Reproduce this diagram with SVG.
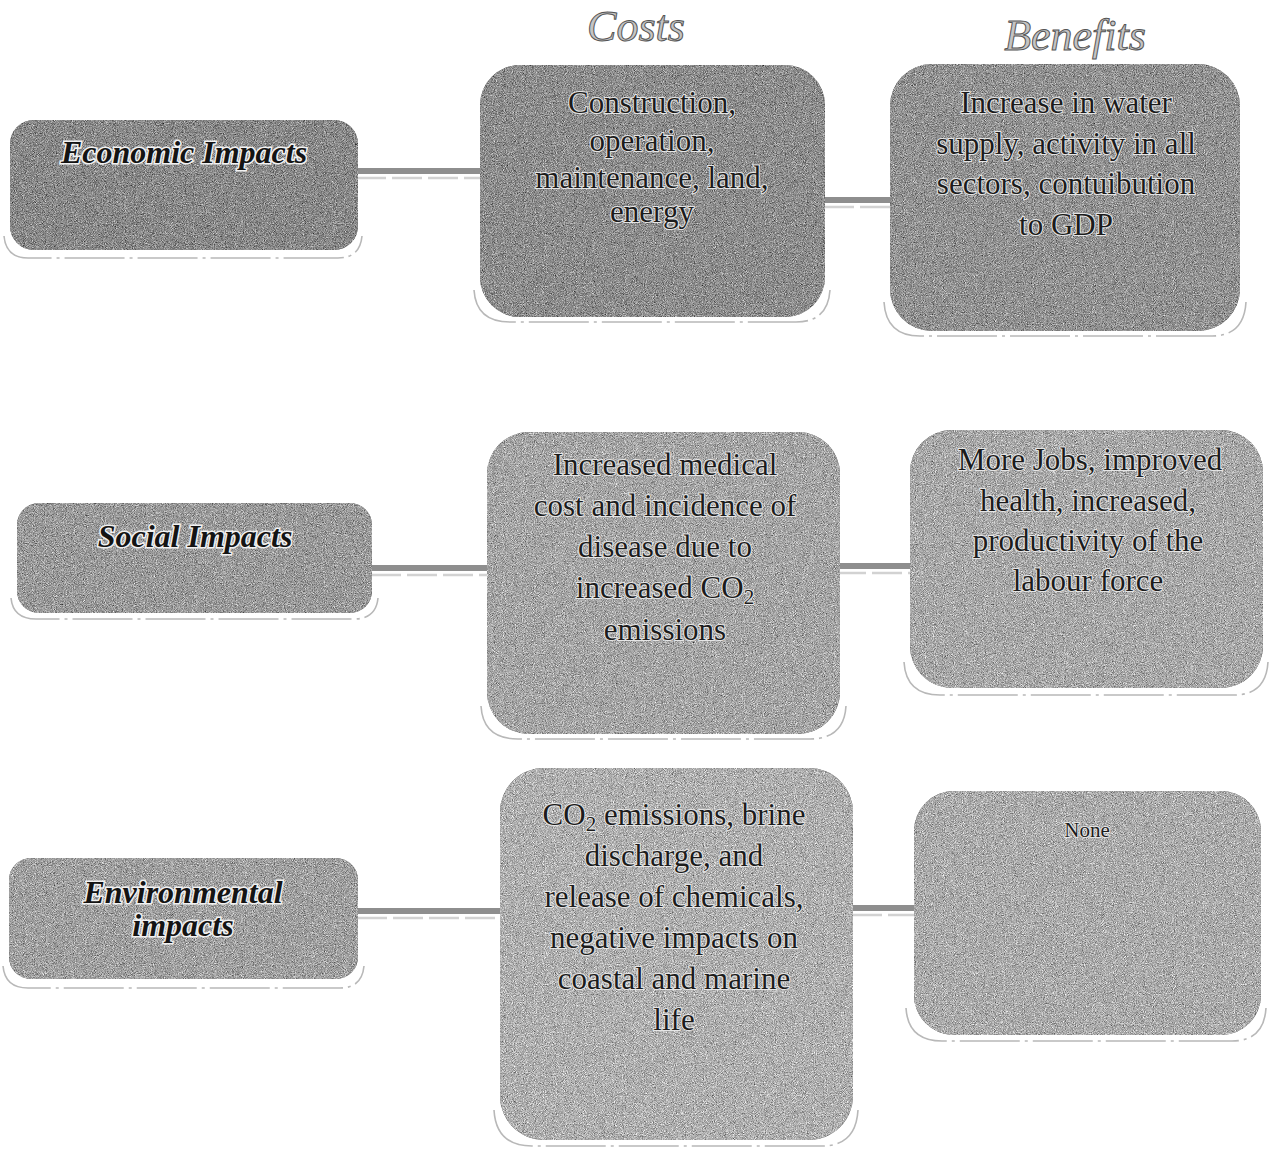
<svg xmlns="http://www.w3.org/2000/svg" width="1271" height="1156" viewBox="0 0 1271 1156">
<defs>
  <filter id="grain" x="0" y="0" width="100%" height="100%" color-interpolation-filters="sRGB">
    <feTurbulence type="fractalNoise" baseFrequency="1.1" numOctaves="2" seed="7" result="n"/>
    <feColorMatrix in="n" type="matrix" values="0.33 0.33 0.33 0 0  0.33 0.33 0.33 0 0  0.33 0.33 0.33 0 0  0 0 0 0 1" result="g"/>
    <feComposite in="SourceGraphic" in2="g" operator="arithmetic" k1="0" k2="1" k3="1.5" k4="-0.75" result="mix"/>
    <feComposite in="mix" in2="SourceGraphic" operator="in"/>
  </filter>
  <style>
    .box { filter: url(#grain); }
    .refl { fill: none; stroke: #b8b8b8; stroke-width: 1.6; stroke-dasharray: 60 5 3 5; }
    .conn { stroke: #8e8e8e; stroke-width: 6; fill: none; }
    .connsh { stroke: #d2d2d2; stroke-width: 2.5; fill: none; stroke-dasharray: 30 6; }
    .hdr { font-family: "Liberation Serif", "DejaVu Serif", serif; font-style: italic; font-size: 44px; fill: #c4c4c4; stroke: #555555; stroke-width: 1; text-anchor: middle; }
    .lbl { font-family: "Liberation Serif", "DejaVu Serif", serif; font-style: italic; font-weight: bold; font-size: 32px; fill: #141414; stroke: #f2f2f2; stroke-width: 3; paint-order: stroke; text-anchor: middle; }
    .txt { font-family: "Liberation Serif", "DejaVu Serif", serif; font-size: 31px; fill: #1c1c1c; stroke: #e6e6e6; stroke-width: 2; paint-order: stroke; text-anchor: middle; }
    .small { font-size: 21px; }
  </style>
</defs>
<rect width="1271" height="1156" fill="#ffffff"/>

<text class="hdr" x="636" y="41">Costs</text>
<text class="hdr" x="1075" y="50">Benefits</text>

<g id="connectors">
  <line class="conn" x1="356" y1="171" x2="481" y2="171"/>
  <line class="connsh" x1="356" y1="178" x2="481" y2="178"/>
  <line class="conn" x1="824" y1="200" x2="891" y2="200"/>
  <line class="connsh" x1="824" y1="207" x2="891" y2="207"/>
  <line class="conn" x1="371" y1="568" x2="488" y2="568"/>
  <line class="connsh" x1="371" y1="575" x2="488" y2="575"/>
  <line class="conn" x1="836" y1="566" x2="911" y2="566"/>
  <line class="connsh" x1="836" y1="573" x2="911" y2="573"/>
  <line class="conn" x1="357" y1="911" x2="501" y2="911"/>
  <line class="connsh" x1="357" y1="918" x2="501" y2="918"/>
  <line class="conn" x1="852" y1="908" x2="914" y2="908"/>
  <line class="connsh" x1="852" y1="915" x2="914" y2="915"/>
</g>

<g id="economic-impacts">
  <path class="refl" d="M4 236 Q6 258 28 258 L338 258 Q360 258 362 236"/>
  <rect class="box" x="10" y="120" width="348" height="130" rx="24" fill="#8a8a8a"/>
  <text class="lbl" x="184" y="163">Economic Impacts</text>
</g>

<g id="economic-costs">
  <path class="refl" d="M474 290 Q476 322 510 322 L796 322 Q828 322 830 290"/>
  <rect class="box" x="480" y="65" width="345" height="252" rx="40" fill="#8e8e8e"/>
  <text class="txt" x="652" y="113">Construction,</text>
  <text class="txt" x="652" y="151">operation,</text>
  <text class="txt" x="652" y="188">maintenance, land,</text>
  <text class="txt" x="652" y="222">energy</text>
</g>

<g id="economic-benefits">
  <path class="refl" d="M884 302 Q886 336 920 336 L1212 336 Q1244 336 1246 302"/>
  <rect class="box" x="890" y="64" width="350" height="267" rx="42" fill="#939393"/>
  <text class="txt" x="1066" y="113">Increase in water</text>
  <text class="txt" x="1066" y="154">supply, activity in all</text>
  <text class="txt" x="1066" y="194">sectors, contuibution</text>
  <text class="txt" x="1066" y="235">to GDP</text>
</g>

<g id="social-impacts">
  <path class="refl" d="M11 598 Q13 619 36 619 L354 619 Q376 619 378 598"/>
  <rect class="box" x="17" y="503" width="355" height="110" rx="22" fill="#9b9b9b"/>
  <text class="lbl" x="195" y="547">Social Impacts</text>
</g>

<g id="social-costs">
  <path class="refl" d="M481 706 Q483 739 518 739 L810 739 Q844 739 846 706"/>
  <rect class="box" x="487" y="432" width="353" height="302" rx="42" fill="#a6a6a6"/>
  <text class="txt" x="665" y="475">Increased medical</text>
  <text class="txt" x="665" y="516">cost and incidence of</text>
  <text class="txt" x="665" y="557">disease due to</text>
  <text class="txt" x="665" y="598">increased CO<tspan font-size="21" dy="6">2</tspan></text>
  <text class="txt" x="665" y="640">emissions</text>
</g>

<g id="social-benefits">
  <path class="refl" d="M904 662 Q906 695 940 695 L1234 695 Q1266 695 1268 662"/>
  <rect class="box" x="910" y="430" width="353" height="258" rx="42" fill="#a9a9a9"/>
  <text class="txt" x="1090" y="470">More Jobs, improved</text>
  <text class="txt" x="1088" y="511">health, increased,</text>
  <text class="txt" x="1088" y="551">productivity of the</text>
  <text class="txt" x="1088" y="591">labour force</text>
</g>

<g id="environmental-impacts">
  <path class="refl" d="M3 966 Q5 988 28 988 L340 988 Q362 988 364 966"/>
  <rect class="box" x="9" y="858" width="349" height="121" rx="22" fill="#a1a1a1"/>
  <text class="lbl" x="183" y="903">Environmental</text>
  <text class="lbl" x="183" y="936">impacts</text>
</g>

<g id="environmental-costs">
  <path class="refl" d="M494 1110 Q496 1146 532 1146 L822 1146 Q856 1146 858 1110"/>
  <rect class="box" x="500" y="768" width="353" height="372" rx="44" fill="#b0b0b0"/>
  <text class="txt" x="674" y="825">CO<tspan font-size="21" dy="6">2</tspan><tspan dy="-6"> emissions, brine</tspan></text>
  <text class="txt" x="674" y="866">discharge, and</text>
  <text class="txt" x="674" y="907">release of chemicals,</text>
  <text class="txt" x="674" y="948">negative impacts on</text>
  <text class="txt" x="674" y="989">coastal and marine</text>
  <text class="txt" x="674" y="1030">life</text>
</g>

<g id="environmental-benefits">
  <path class="refl" d="M906 1008 Q908 1041 942 1041 L1232 1041 Q1264 1041 1266 1008"/>
  <rect class="box" x="914" y="791" width="347" height="244" rx="40" fill="#acacac"/>
  <text class="txt small" x="1087" y="837">None</text>
</g>
</svg>
